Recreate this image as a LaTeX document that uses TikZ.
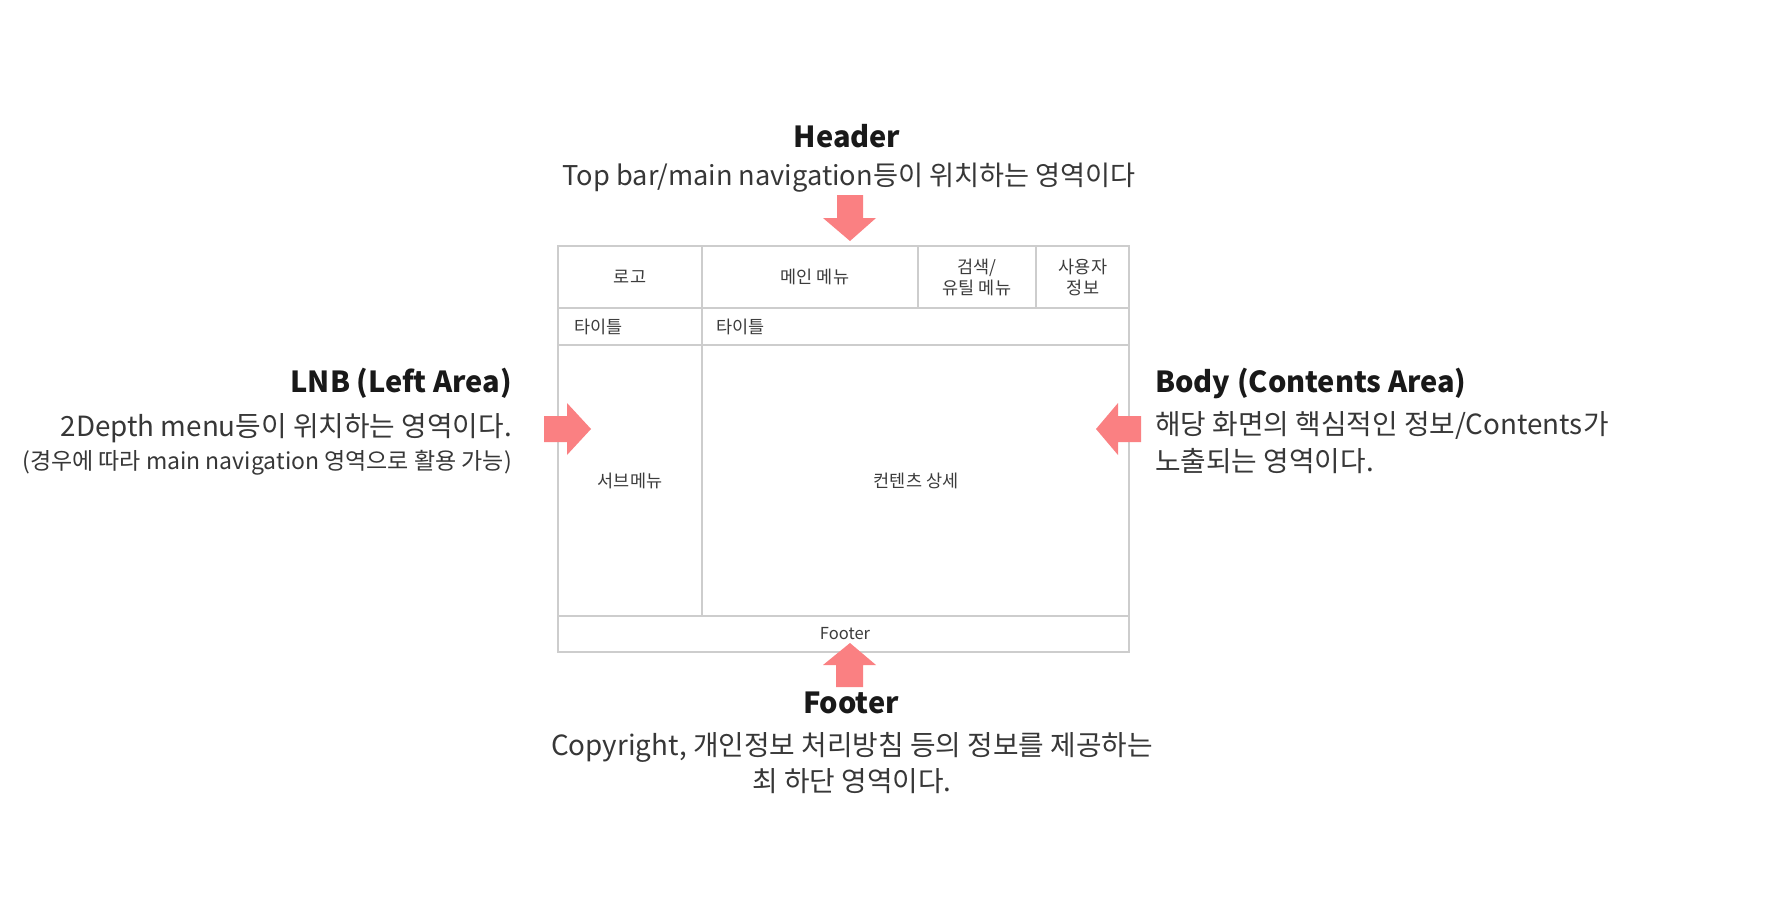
\documentclass[tikz,border=0pt]{standalone}
\usepackage{fontspec}
\setmainfont{Noto Sans CJK KR}
\definecolor{arrowpink}{RGB}{250,128,130}
\definecolor{gridgray}{RGB}{205,205,205}
\definecolor{darktext}{RGB}{25,25,25}
\definecolor{subtext}{RGB}{55,55,55}
\definecolor{boxtext}{RGB}{60,60,60}
\begin{document}
\begin{tikzpicture}[x=1pt,y=-1pt,
  titletext/.style={font=\fontsize{29}{33}\selectfont\bfseries, text=darktext, inner sep=0pt},
  subtitletext/.style={font=\fontsize{27.8}{32}\selectfont, text=subtext, inner sep=0pt},
  smallnote/.style={font=\fontsize{23}{26}\selectfont, text=subtext, inner sep=0pt},
  boxlabel/.style={font=\fontsize{17.5}{21}\selectfont, text=boxtext, inner sep=0pt, align=center},
  gridline/.style={draw=gridgray, line width=1.8pt},
  blockarrow/.style={fill=arrowpink}
]
\useasboundingbox[fill=white] (0,0) rectangle (1787,919);

% grid
\draw[gridline] (558,246) rectangle (1129,652);
\draw[gridline] (558,308) -- (1129,308);
\draw[gridline] (558,345) -- (1129,345);
\draw[gridline] (558,616) -- (1129,616);
\draw[gridline] (702,246) -- (702,616);
\draw[gridline] (918,246) -- (918,308);
\draw[gridline] (1036,246) -- (1036,308);

% box labels
\node[boxlabel] (logo) at (630,277) {로고};
\node[boxlabel] (mainmenu) at (815,277) {메인 메뉴};
\node[boxlabel] (search) at (977,277) {검색/\\유틸 메뉴};
\node[boxlabel] (user) at (1083,277) {사용자\\정보};
\node[boxlabel, anchor=west] (title1) at (574,327) {타이틀};
\node[boxlabel, anchor=west] (title2) at (716,327) {타이틀};
\node[boxlabel] (submenu) at (630,481) {서브메뉴};
\node[boxlabel] (contents) at (916,481) {컨텐츠 상세};
\node[boxlabel, font=\fontsize{16.5}{20}\selectfont] (footersmall) at (845,634) {Footer};

% Header
\node[titletext, anchor=base] (header) at (847,147) {Header};
\node[subtitletext, font=\fontsize{27.2}{31}\selectfont, anchor=base] (headersub) at (849,185) {Top bar/main navigation등이 위치하는 영역이다};
\fill[blockarrow] (837,195) -- (863,195) -- (863,218) -- (876,218) -- (850,241) -- (823,218) -- (837,218) -- cycle;

% LNB
\node[titletext, anchor=base east] (lnb) at (512,392) {LNB (Left Area)};
\node[subtitletext, anchor=base east] (lnbsub) at (512,436) {2Depth menu등이 위치하는 영역이다.};
\node[smallnote, anchor=base east] (lnbnote) at (512,469) {(경우에 따라 main navigation 영역으로 활용 가능)};
\fill[blockarrow] (544,416) -- (567,416) -- (567,403) -- (591,429) -- (567,455) -- (567,442) -- (544,442) -- cycle;

% Body
\node[titletext, anchor=base west] (body) at (1155,392) {Body (Contents Area)};
\node[subtitletext, anchor=base west] (bodysub1) at (1155,434) {해당 화면의 핵심적인 정보/Contents가};
\node[subtitletext, anchor=base west] (bodysub2) at (1155,471) {노출되는 영역이다.};
\fill[blockarrow] (1141,416) -- (1118,416) -- (1118,403) -- (1096,429) -- (1118,455) -- (1118,442) -- (1141,442) -- cycle;

% Footer
\fill[blockarrow] (836,687) -- (863,687) -- (863,665) -- (876,665) -- (850,643) -- (823,665) -- (836,665) -- cycle;
\node[titletext, anchor=base] (footer) at (851,713) {Footer};
\node[subtitletext, anchor=base] (footersub1) at (852,755) {Copyright, 개인정보 처리방침 등의 정보를 제공하는};
\node[subtitletext, anchor=base] (footersub2) at (852,791) {최 하단 영역이다.};
\end{tikzpicture}
\end{document}
